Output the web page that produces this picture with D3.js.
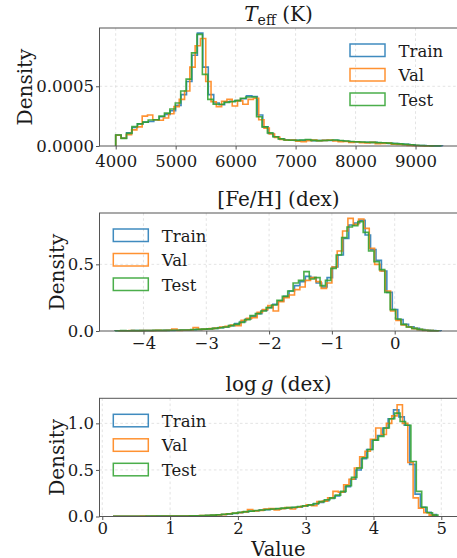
<!DOCTYPE html>
<html>
<head>
<meta charset="utf-8">
<script src="https://cdn.jsdelivr.net/npm/d3@7"></script>
<style>
  body { margin: 0; background: #fff; }
  svg { display: block; font-family: "DejaVu Serif", serif; }
  .grid line { stroke: #dcdcdc; stroke-dasharray: 2.6 2.6; stroke-width: 0.8; }
  .axis line { stroke: #555; }
  .axis text { fill: #1a1a1a; font-size: 16.5px; font-family: "DejaVu Serif", serif; }
</style>
</head>
<body>
<div id="graf"></div>
<script>
// Datos: densidades por bin (60 bins por serie)
const series = ["Train", "Val", "Test"]
const colores = ["#1f77b4", "#ff7f0e", "#2ca02c"]

// Teff en unidades de 1e-4
const teffUnit = 1e-4
const teffLo = [4000, 4000, 4000]
const teffHi = [9450, 9300, 9420]
const teffTrain = [0.92,0.66,1.1,1.55,1.85,2.0,2.05,2.2,2.45,2.65,
  2.95,3.4,4.3,5.4,7.6,9.45,6.6,4.3,3.6,3.45,
  3.7,3.75,3.8,3.95,4.2,4.15,2.6,1.6,1.05,0.78,
  0.6,0.5,0.5,0.48,0.47,0.5,0.45,0.45,0.47,0.46,
  0.48,0.44,0.4,0.36,0.33,0.32,0.3,0.3,0.27,0.24,
  0.22,0.2,0.17,0.14,0.1,0.04,0.03,0.02,0.01,0.01]
const teffVal = [0.9,0.65,0.95,1.35,1.6,2.5,2.6,2.2,2.15,2.35,
  2.7,3.3,3.9,4.6,6.6,8.4,9.0,5.4,3.7,3.3,
  3.75,3.9,3.35,3.8,3.5,3.9,4.0,2.2,1.5,1.0,
  0.72,0.55,0.48,0.5,0.4,0.36,0.45,0.5,0.44,0.47,
  0.5,0.42,0.35,0.38,0.3,0.35,0.28,0.25,0.3,0.2,
  0.22,0.24,0.15,0.12,0.1,0.05,0.03,0.02,0.01,0.01]
const teffTest = [0.92,0.64,1.06,1.62,1.85,2.0,2.18,2.2,2.5,2.75,
  3.1,3.6,4.6,5.6,7.8,9.35,6.0,3.9,3.5,3.5,
  3.65,3.7,3.8,4.0,4.1,4.1,2.45,1.6,1.1,0.78,
  0.6,0.5,0.48,0.47,0.5,0.55,0.47,0.45,0.46,0.48,
  0.5,0.46,0.42,0.38,0.36,0.34,0.32,0.3,0.28,0.27,
  0.24,0.2,0.18,0.14,0.1,0.06,0.04,0.02,0.01,0.01]

// [Fe/H]
const fehLo = [-4.45, -4.4, -4.45]
const fehHi = [0.74, 0.7, 0.7]
const fehTrain = [0.002,0.002,0.002,0.003,0.003,0.003,0.003,0.004,0.004,0.005,
  0.005,0.006,0.007,0.008,0.009,0.011,0.013,0.016,0.02,0.025,
  0.03,0.04,0.055,0.07,0.09,0.11,0.13,0.155,0.175,0.2,
  0.225,0.26,0.3,0.34,0.37,0.41,0.4,0.36,0.33,0.4,
  0.48,0.57,0.695,0.795,0.81,0.83,0.72,0.61,0.53,0.45,
  0.29,0.16,0.085,0.05,0.032,0.02,0.01,0.006,0.003,0.002]
const fehVal = [0.002,0.002,0.003,0.002,0.003,0.004,0.003,0.005,0.004,0.006,
  0.015,0.005,0.006,0.007,0.025,0.012,0.015,0.018,0.022,0.03,
  0.035,0.045,0.04,0.08,0.095,0.1,0.14,0.16,0.19,0.15,
  0.22,0.25,0.27,0.31,0.33,0.38,0.4,0.37,0.32,0.36,
  0.48,0.6,0.75,0.845,0.8,0.84,0.77,0.62,0.5,0.45,
  0.3,0.15,0.08,0.045,0.03,0.018,0.01,0.005,0.003,0.002]
const fehTest = [0.002,0.003,0.002,0.003,0.003,0.004,0.004,0.005,0.005,0.005,
  0.006,0.006,0.007,0.008,0.01,0.012,0.014,0.016,0.02,0.024,
  0.03,0.04,0.05,0.065,0.085,0.115,0.13,0.15,0.175,0.195,
  0.23,0.26,0.3,0.36,0.38,0.445,0.39,0.4,0.34,0.38,
  0.47,0.57,0.7,0.78,0.79,0.82,0.74,0.6,0.52,0.46,
  0.29,0.16,0.09,0.05,0.03,0.02,0.012,0.006,0.003,0.002]

// log g
const loggLo = [0.17, 0.17, 0.17]
const loggHi = [4.93, 4.9, 4.95]
const loggTrain = [0.002,0.002,0.002,0.003,0.003,0.003,0.003,0.003,0.004,0.004,
  0.004,0.005,0.005,0.005,0.006,0.007,0.008,0.01,0.013,0.017,
  0.021,0.026,0.033,0.042,0.05,0.056,0.062,0.068,0.074,0.078,
  0.082,0.086,0.09,0.095,0.1,0.11,0.12,0.135,0.15,0.17,
  0.195,0.22,0.26,0.32,0.4,0.5,0.62,0.72,0.82,0.87,
  0.95,1.05,1.145,1.07,0.98,0.56,0.24,0.1,0.045,0.02]
const loggVal = [0.002,0.002,0.003,0.002,0.003,0.004,0.003,0.004,0.003,0.004,
  0.005,0.004,0.006,0.005,0.007,0.006,0.009,0.011,0.014,0.016,
  0.02,0.03,0.035,0.04,0.05,0.075,0.06,0.065,0.08,0.085,
  0.07,0.085,0.095,0.08,0.1,0.11,0.125,0.115,0.16,0.165,
  0.2,0.27,0.26,0.34,0.4,0.52,0.64,0.7,0.83,0.95,
  0.88,1.0,1.08,1.2,1.0,0.58,0.2,0.09,0.04,0.015]
const loggTest = [0.002,0.003,0.002,0.003,0.003,0.003,0.004,0.004,0.004,0.005,
  0.004,0.005,0.006,0.006,0.007,0.008,0.009,0.012,0.015,0.019,
  0.024,0.03,0.036,0.045,0.052,0.058,0.065,0.07,0.075,0.08,
  0.085,0.09,0.095,0.1,0.108,0.115,0.125,0.14,0.16,0.18,
  0.2,0.23,0.27,0.33,0.42,0.52,0.63,0.72,0.82,0.86,
  0.95,1.05,1.11,1.02,0.98,0.59,0.27,0.1,0.04,0.015]

// Ticks
const teffXTicks = [4000, 5000, 6000, 7000, 8000, 9000]
const teffYTicks = [0, 0.0005]
const fehXTicks = [-4, -3, -2, -1, 0]
const fehYTicks = [0, 0.5]
const loggXTicks = [0, 1, 2, 3, 4, 5]
const loggYTicks = [0, 0.5, 1.0]

// Configuracion de paneles
const anchoTotal = 457
const altoTotal = 558
const left = 99.5
const right = 457.5

const paneles = [
  {
    top: 28, bottom: 146, xPad: 5.5,
    xDomain: [3730, 9700], yDomain: [0, 0.000988],
    xTicks: teffXTicks, yTicks: teffYTicks, xFmt: d3.format("d"), yFmt: d3.format(".4f"),
    datos: [teffTrain, teffVal, teffTest], lo: teffLo, hi: teffHi, unit: teffUnit,
    legendX: 350, ylabelX: 31.5, titulo: "teff",
  },
  {
    top: 213, bottom: 331, xPad: 2.5,
    xDomain: [-4.7, 1.0], yDomain: [0, 0.885],
    xTicks: fehXTicks, yTicks: fehYTicks, xFmt: d3.format("d"), yFmt: d3.format(".1f"),
    datos: [fehTrain, fehVal, fehTest], lo: fehLo, hi: fehHi, unit: 1,
    legendX: 113.3, ylabelX: 63.5, titulo: "feh",
  },
  {
    top: 398.3, bottom: 516.5, xPad: 2.5,
    xDomain: [-0.041, 5.239], yDomain: [0, 1.269],
    xTicks: loggXTicks, yTicks: loggYTicks, xFmt: d3.format("d"), yFmt: d3.format(".1f"),
    datos: [loggTrain, loggVal, loggTest], lo: loggLo, hi: loggHi, unit: 1,
    legendX: 113.3, ylabelX: 63.5, titulo: "logg",
  },
]

const svg = d3.select("#graf")
  .append("svg")
  .attr("width", anchoTotal)
  .attr("height", altoTotal)

svg.append("rect").attr("width", anchoTotal).attr("height", altoTotal).attr("fill", "#fff")

// puntos del contorno tipo "step" a partir de los bins
const stepPoints = (vals, lo, hi, unit) => {
  const n = vals.length
  const w = (hi - lo) / n
  const pts = [[lo, 0]]
  vals.forEach((v, i) => {
    pts.push([lo + i * w, v * unit], [lo + (i + 1) * w, v * unit])
  })
  pts.push([hi, 0])
  return pts
}

const drawTitle = (g, p, cx) => {
  const t = g.append("text")
    .attr("x", cx)
    .attr("y", p.top - 7)
    .attr("text-anchor", "middle")
    .attr("font-size", 20)
    .attr("fill", "#1a1a1a")
  if (p.titulo === "teff") {
    t.append("tspan").attr("font-style", "italic").text("T")
    t.append("tspan").attr("font-size", 14).attr("dy", 4).text("eff")
    t.append("tspan").attr("dy", -4).text(" (K)")
  } else if (p.titulo === "feh") {
    t.text("[Fe/H] (dex)")
  } else {
    t.append("tspan").text("log\u2009")
    t.append("tspan").attr("font-style", "italic").text("g")
    t.append("tspan").text(" (dex)")
  }
}

const render = () => {
  paneles.forEach((p, pi) => {
    const g = svg.append("g")
    const x = d3.scaleLinear().domain(p.xDomain).range([left, right])
    const y = d3.scaleLinear().domain(p.yDomain).range([p.bottom, p.top])

    // grid
    const grid = g.append("g").attr("class", "grid")
    grid.selectAll(".gx")
      .data(p.xTicks)
      .join("line")
      .attr("x1", (d) => x(d)).attr("x2", (d) => x(d))
      .attr("y1", p.top).attr("y2", p.bottom)
    grid.selectAll(".gy")
      .data(p.yTicks.filter((d) => d > 0))
      .join("line")
      .attr("class", "gy")
      .attr("x1", left).attr("x2", right)
      .attr("y1", (d) => y(d)).attr("y2", (d) => y(d))

    // histogramas
    const line = d3.line().x((d) => x(d[0])).y((d) => y(d[1]))
    p.datos.forEach((vals, si) => {
      g.append("path")
        .attr("d", line(stepPoints(vals, p.lo[si], p.hi[si], p.unit)))
        .attr("fill", "none")
        .attr("stroke", colores[si])
        .attr("stroke-width", 1.6)
        .attr("stroke-opacity", 0.85)
    })

    // ejes
    const xAxis = d3.axisBottom(x).tickValues(p.xTicks).tickFormat(p.xFmt)
      .tickSize(3.5).tickPadding(p.xPad).tickSizeOuter(0)
    const xg = g.append("g")
      .attr("class", "axis")
      .attr("transform", `translate(0, ${p.bottom})`)
      .call(xAxis)
    xg.select(".domain").remove()

    const yAxis = d3.axisLeft(y).tickValues(p.yTicks).tickFormat(p.yFmt)
      .tickSize(3.5).tickPadding(2).tickSizeOuter(0)
    const yg = g.append("g")
      .attr("class", "axis")
      .attr("transform", `translate(${left}, 0)`)
      .call(yAxis)
    yg.select(".domain").remove()

    // spines
    g.append("rect")
      .attr("x", left).attr("y", p.top)
      .attr("width", right - left).attr("height", p.bottom - p.top)
      .attr("fill", "none")
      .attr("stroke", "#555")
      .attr("stroke-width", 1)

    drawTitle(g, p, (left + right) / 2)

    // etiqueta y
    g.append("text")
      .attr("transform", `translate(${p.ylabelX}, ${(p.top + p.bottom) / 2}) rotate(-90)`)
      .attr("text-anchor", "middle")
      .attr("font-size", 20)
      .attr("fill", "#1a1a1a")
      .text("Density")

    // leyenda
    const leg = g.append("g")
    series.forEach((s, si) => {
      const ry = p.top + 16 + si * 24.5
      leg.append("rect")
        .attr("x", p.legendX).attr("y", ry)
        .attr("width", 35).attr("height", 12.5)
        .attr("fill", "none")
        .attr("stroke", colores[si])
        .attr("stroke-width", 1.5)
        .attr("stroke-opacity", 0.85)
      leg.append("text")
        .attr("x", p.legendX + 48.5)
        .attr("y", ry + 12.5)
        .attr("font-size", 16.5)
        .attr("fill", "#1a1a1a")
        .text(s)
    })

    if (pi === paneles.length - 1) {
      svg.append("text")
        .attr("x", (left + right) / 2)
        .attr("y", 555.5)
        .attr("text-anchor", "middle")
        .attr("font-size", 19.5)
        .attr("fill", "#1a1a1a")
        .text("Value")
    }
  })
}

render()
</script>
</body>
</html>
